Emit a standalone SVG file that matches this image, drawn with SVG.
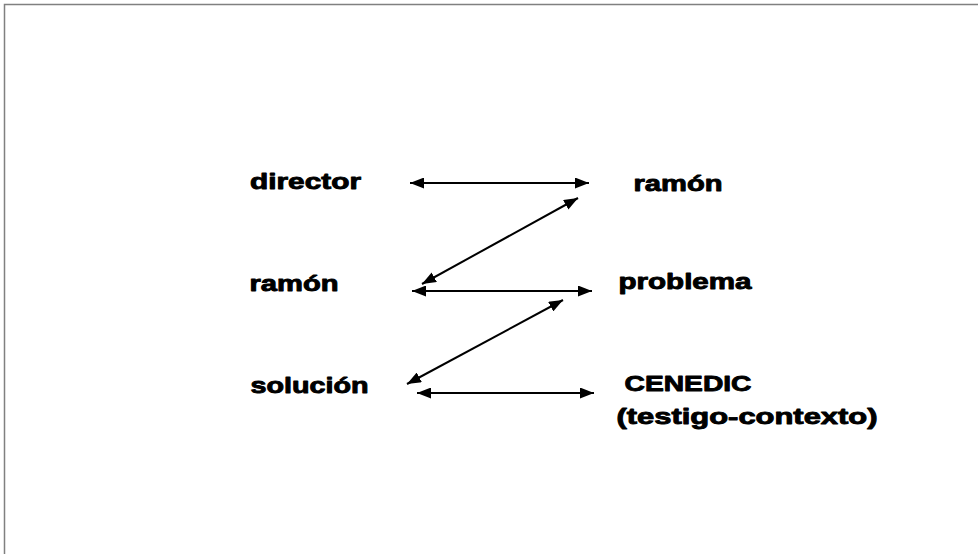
<svg xmlns="http://www.w3.org/2000/svg" width="978" height="554" viewBox="0 0 978 554">
  <style>
    .lbl { font-family: "Liberation Sans", Arial, sans-serif; font-weight: bold; font-size: 22px; fill: #000; stroke: #000; stroke-width: 0.9; stroke-linejoin: round; }
    .conn { stroke: #000; stroke-width: 2; fill: none; marker-start: url(#head); marker-end: url(#head); }
  </style>
  <defs>
    <marker id="head" viewBox="0 0 14 11" refX="14" refY="5.5" markerWidth="14" markerHeight="11" markerUnits="userSpaceOnUse" orient="auto-start-reverse">
      <path d="M0,0 L14,5.5 L0,11 Z" fill="#000"/>
    </marker>
  </defs>
  <rect width="978" height="554" fill="#fff"/>
  <rect x="4.5" y="4.5" width="1000" height="600" fill="none" stroke="#808080" stroke-width="1.5"/>

  <g id="connectors">
    <line class="conn" x1="410" y1="183" x2="589" y2="183"/>
    <line class="conn" x1="578" y1="198" x2="422" y2="284"/>
    <line class="conn" x1="412" y1="291" x2="592" y2="291"/>
    <line class="conn" x1="563" y1="300" x2="407" y2="384"/>
    <line class="conn" x1="417" y1="393" x2="594" y2="393"/>
  </g>

  <g id="n-director"><text class="lbl" x="250" y="189" textLength="111" lengthAdjust="spacingAndGlyphs">director</text></g>
  <g id="n-ramon-left"><text class="lbl" x="249.5" y="290.5" textLength="89" lengthAdjust="spacingAndGlyphs">ramón</text></g>
  <g id="n-solucion"><text class="lbl" x="250.5" y="392.5" textLength="118" lengthAdjust="spacingAndGlyphs">solución</text></g>
  <g id="n-ramon-right"><text class="lbl" x="633.5" y="190.5" textLength="89" lengthAdjust="spacingAndGlyphs">ramón</text></g>
  <g id="n-problema"><text class="lbl" x="618.5" y="288.5" textLength="133" lengthAdjust="spacingAndGlyphs">problema</text></g>
  <g id="n-cenedic">
    <text class="lbl" x="624.5" y="391" textLength="127" lengthAdjust="spacingAndGlyphs">CENEDIC</text>
    <text class="lbl" x="616.5" y="423.5" textLength="261" lengthAdjust="spacingAndGlyphs">(testigo-contexto)</text>
  </g>
</svg>
